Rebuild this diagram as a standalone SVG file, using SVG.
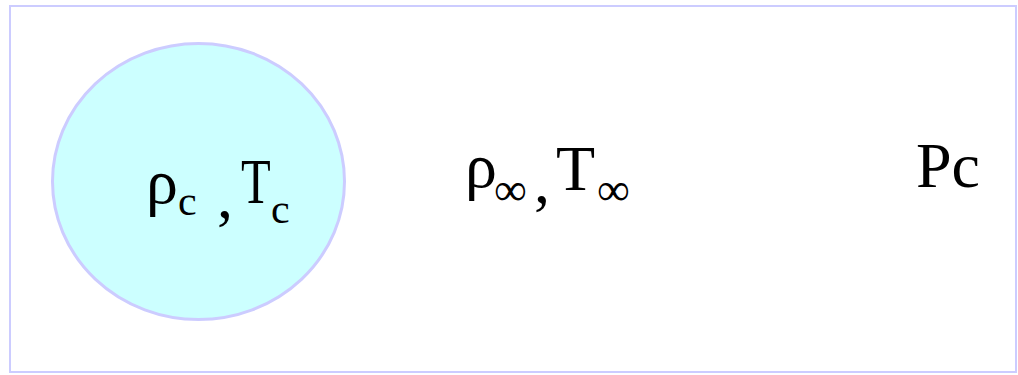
<svg xmlns="http://www.w3.org/2000/svg" width="1018" height="375" viewBox="0 0 1018 375">
<style>
.t{font-family:"Liberation Serif","Times New Roman",serif;fill:#000}
.big{font-size:64px}
.sub{font-size:42px}
.inf{font-size:46px}
</style>
<rect x="0" y="0" width="1018" height="375" fill="#fff"/>
<g id="frame"><rect x="10" y="6" width="1006" height="366" fill="#fff" stroke="#ccccff" stroke-width="2"/></g>
<g id="core">
<ellipse cx="198.5" cy="181.5" rx="146" ry="138" fill="#ccffff" stroke="#ccccff" stroke-width="3"/>
<text class="t big" x="146" y="203">ρ</text>
<text class="t sub" x="178" y="215">c</text>
<text class="t big" x="217" y="218">,</text>
<g transform="translate(241,203) scale(0.76,1)"><text class="t big" x="0" y="0">T</text></g>
<text class="t sub" x="271" y="223">c</text>
</g>
<g id="ambient">
<text class="t big" x="465" y="187">ρ</text>
<text class="t inf" x="494" y="205">∞</text>
<text class="t big" x="534" y="203">,</text>
<text class="t big" x="556" y="190">T</text>
<text class="t inf" x="597" y="205">∞</text>
</g>
<g id="pc"><text class="t big" x="916" y="187">Pc</text></g>
</svg>
